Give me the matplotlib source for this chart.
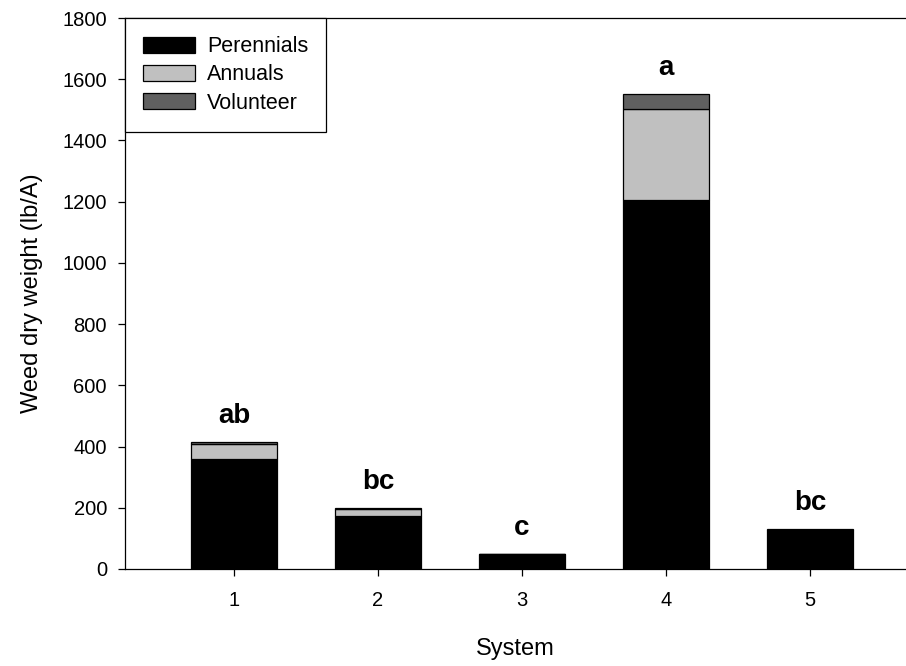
import matplotlib
matplotlib.use("Agg")
import matplotlib.pyplot as plt
import numpy as np

systems = [1, 2, 3, 4, 5]
perennials = [360, 173, 49, 1205, 127]
annuals = [48, 24, 1, 297, 2]
volunteer = [8, 2, 0, 50, 1]
letters = ["ab", "bc", "c", "a", "bc"]
yticks = [0, 200, 400, 600, 800, 1000, 1200, 1400, 1600, 1800]

plt.rcParams['font.family'] = ['Liberation Sans', 'DejaVu Sans']

fig = plt.figure(figsize=(9.06, 6.66), dpi=100)
ax = fig.add_axes([125/906, 97/666, 1 - 125/906, (569-18)/666])

x = np.array(systems, dtype=float)
p = np.array(perennials, dtype=float)
a = np.array(annuals, dtype=float)
v = np.array(volunteer, dtype=float)
w = 0.6
lw = 0.9
ax.bar(x, p, w, color='black', edgecolor='black', linewidth=lw, label='Perennials')
ax.bar(x, a, w, bottom=p, color='#c0c0c0', edgecolor='black', linewidth=lw, label='Annuals')
ax.bar(x, v, w, bottom=p + a, color='#606060', edgecolor='black', linewidth=lw, label='Volunteer')

tot = p + a + v
for xi, t, lab in zip(x, tot, letters):
    ax.annotate(lab, (xi, t), xytext=(0, 13.5), textcoords='offset points',
                ha='center', va='baseline', fontsize=20, fontweight='bold')

ax.set_xlim(0.243, 5.667)
ax.set_ylim(0, 1800)
ax.set_yticks(yticks)
ax.set_xticks(systems)
ax.tick_params(axis='both', direction='out', length=5, width=lw, labelsize=14.5, pad=8)
ax.tick_params(axis='x', pad=11)
for s in ['left', 'bottom', 'top']:
    ax.spines[s].set_linewidth(lw)
ax.spines['right'].set_visible(False)

ax.set_ylabel('Weed dry weight (lb/A)', fontsize=17, labelpad=14)
ax.set_xlabel('System', fontsize=17, labelpad=20)

leg = ax.legend(loc='upper left', bbox_to_anchor=(0, 1), borderaxespad=0,
                fancybox=False, edgecolor='black', framealpha=1, fontsize=15.5,
                handlelength=2.4, handleheight=0.75, handletextpad=0.55,
                labelspacing=0.33, borderpad=0.85)
leg.get_frame().set_linewidth(lw)

fig.savefig('out.png', dpi=100)
